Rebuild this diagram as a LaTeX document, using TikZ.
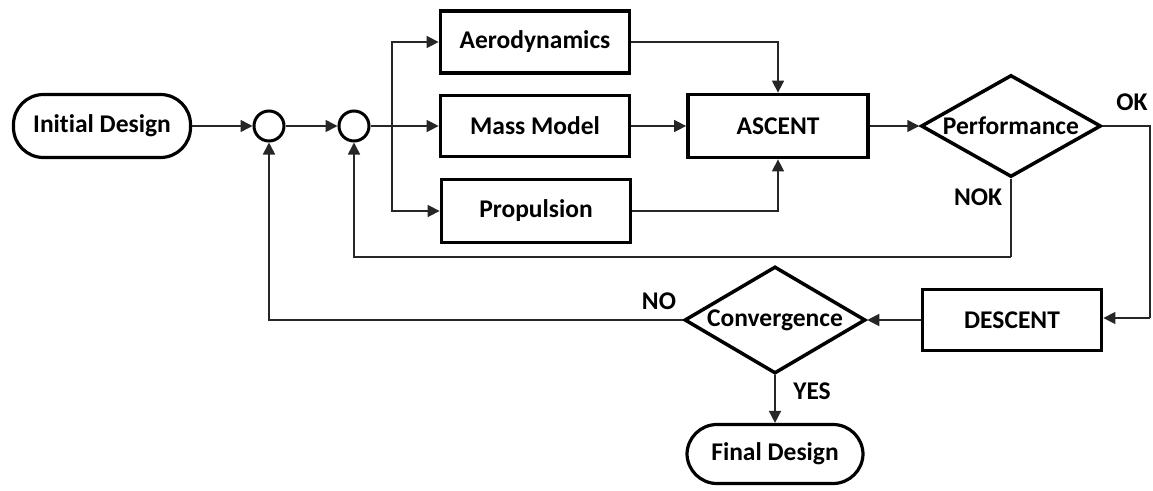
\documentclass[tikz,border=0pt]{standalone}
\usepackage{fontspec}
\setmainfont[Ligatures=NoCommon]{Carlito}
\usetikzlibrary{arrows.meta,shapes.geometric}
\begin{document}
\begin{tikzpicture}[x=1pt,y=-1pt,
  every node/.style={font=\fontsize{25.5}{30}\selectfont\bfseries, text=black},
  boxnode/.style={draw=black, line width=3.8pt, rectangle, inner sep=0pt},
  termnode/.style={draw=black, line width=3.2pt, rectangle, rounded corners=30pt, inner sep=0pt},
  decnode/.style={draw=black, line width=3.5pt, diamond, inner sep=0pt, aspect=1.7},
  sumnode/.style={draw=black, line width=3pt, circle, inner sep=0pt, minimum size=30pt},
  conn/.style={draw=black!85, line width=1.6pt, -{Triangle[length=12pt,width=12pt]}},
  line/.style={draw=black!85, line width=1.6pt},
  lbl/.style={inner sep=0pt}
]
\useasboundingbox (0,0) rectangle (1153,490);

\node[termnode, minimum width=177pt, minimum height=63pt] (init) at (102,126) {Initial Design};
\node[sumnode] (c1) at (269,126) {};
\node[sumnode] (c2) at (354,126) {};
\node[boxnode, minimum width=189pt, minimum height=62pt] (aero) at (535,42) {Aerodynamics};
\node[boxnode, minimum width=189pt, minimum height=61pt] (mass) at (535,126) {Mass Model};
\node[boxnode, minimum width=189pt, minimum height=63pt] (prop) at (536,211) {Propulsion};
\node[boxnode, minimum width=180pt, minimum height=63pt] (ascent) at (778,126) {ASCENT};
\node[decnode, minimum width=180pt, minimum height=102pt] (perf) at (1011,126) {};
\node at (perf.center) {Performance};
\node[boxnode, minimum width=179pt, minimum height=61pt] (desc) at (1012,320) {DESCENT};
\node[decnode, minimum width=181pt, minimum height=107pt] (conv) at (775,320) {};
\node at (conv.center) {Convergence};
\node[termnode, minimum width=176pt, minimum height=59pt] (final) at (775,454) {Final Design};

\node[lbl] (ok) at (1132,102) {OK};
\node[lbl] (nok) at (978,197) {NOK};
\node[lbl] (no) at (659,301) {NO};
\node[lbl] (yes) at (812,391) {YES};

\coordinate (br) at (392,126);
\coordinate (okc) at (1150,126);
\coordinate (okd) at (1150,318);
\coordinate (nokc) at (1011,257);

\draw[conn] (init.east) -- (c1.west);
\draw[conn] (c1.east) -- (c2.west);
\draw[conn] (c2.east) -- (mass.west);
\draw[conn] (br) |- (aero.west);
\draw[conn] (br) |- (prop.west);
\draw[conn] (aero.east) -| (ascent.north);
\draw[conn] (mass.east) -- (ascent.west);
\draw[conn] (prop.east) -| (ascent.south);
\draw[conn] (ascent.east) -- (perf.west);
\draw[line] (perf.east) -- (okc) -- (okd);
\draw[conn] (okd) -- (desc.east |- okd);
\draw[line] (perf.south) -- (nokc);
\draw[conn] (nokc) -| (c2.south);
\draw[conn] (desc.west) -- (conv.east);
\draw[conn] (conv.west) -| (c1.south);
\draw[conn] (conv.south) -- (final.north);
\end{tikzpicture}
\end{document}
